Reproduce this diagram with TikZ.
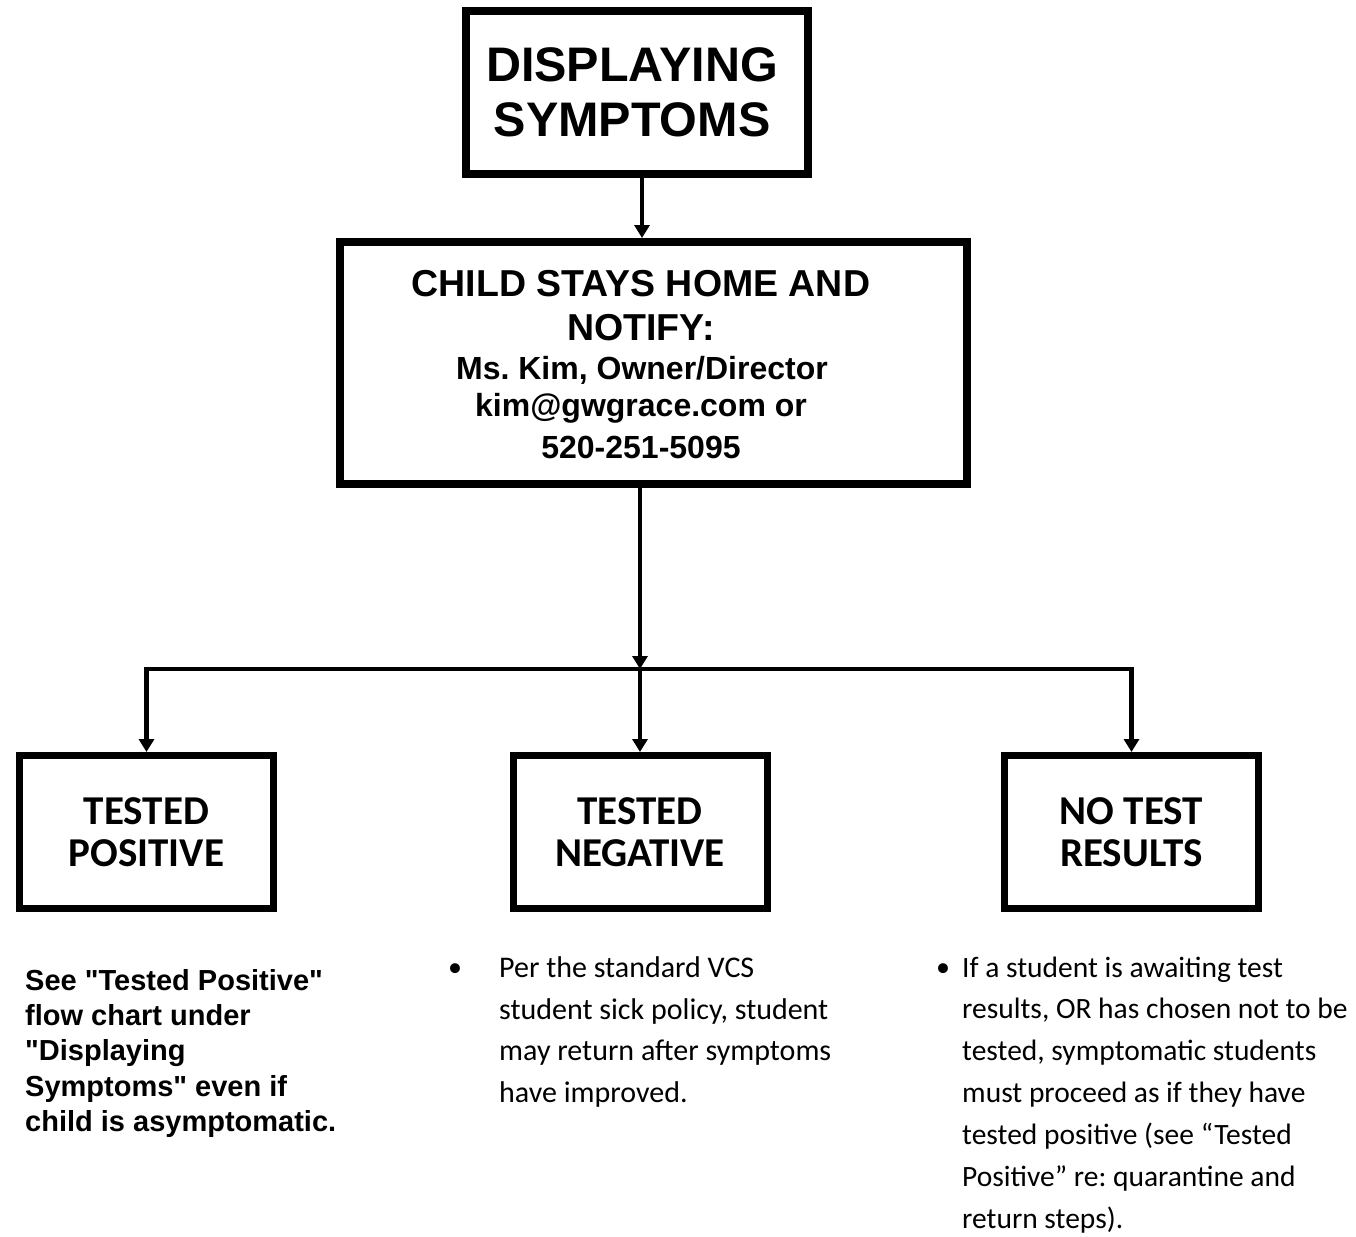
\documentclass[tikz,border=0pt]{standalone}
\usepackage{fontspec}
\setmainfont{Liberation Sans}
\newfontfamily\arialplain{Liberation Sans}
\newfontfamily\calib{Carlito}
\usetikzlibrary{arrows.meta}
\frenchspacing
\begin{document}
\frenchspacing
\begin{tikzpicture}[x=1pt,y=-1pt,
  bigbox/.style={draw,line width=8pt,inner sep=0pt},
  smallbox/.style={draw,line width=7pt,inner sep=0pt,minimum width=254pt,minimum height=153pt,
    align=center,font=\calib\bfseries\fontsize{41}{42}\selectfont},
  conn/.style={line width=4.5pt,-{Triangle[width=15pt,length=13pt]}},
  bigline/.style={inner sep=0pt,font=\bfseries\fontsize{37.5}{40}\selectfont},
  smallline/.style={inner sep=0pt,font=\bfseries\fontsize{32}{36}\selectfont},
  note/.style={inner sep=0pt,anchor=north west,align=left}]
\useasboundingbox (0,0) rectangle (1356,1236);
\fill[white] (0,0) rectangle (1356,1236);

\node[bigbox,minimum width=342pt,minimum height=163pt] (top) at (637,92.5) {};
\node[inner sep=0pt,align=center,font=\bfseries\fontsize{48.5}{55}\selectfont] (toptxt) at (632,92.5) {DISPLAYING\\SYMPTOMS};

\node[bigbox,minimum width=627pt,minimum height=242pt] (child) at (653.5,363) {};
\node[bigline] (l1) at (641,284) {CHILD STAYS HOME AND};
\node[bigline] (l2) at (641,328) {NOTIFY:};
\node[smallline] (l3) at (642,370) {Ms. Kim, Owner/Director};
\node[smallline] (l4) at (641,408) {kim@gwgrace.com or};
\node[smallline] (l5) at (641,447) {520-251-5095};

\node[smallbox] (pos) at (146.5,832) {TESTED\\POSITIVE};
\node[smallbox] (neg) at (640,832) {TESTED\\NEGATIVE};
\node[smallbox] (nores) at (1131.5,832) {NO TEST\\RESULTS};

\coordinate (hub) at (640,669);

\draw[conn] ([xshift=5pt]top.south) -- ([xshift=5pt]top.south |- child.north);
\draw[conn] (child.south -| hub) -- (hub);
\draw[conn] (hub) -- (neg.north);
\draw[conn] (hub) -| (pos.north);
\draw[conn] (hub) -| (nores.north);

\node[note,font=\arialplain\bfseries\fontsize{29}{35.3}\selectfont] (posnote) at (25,969)
  {See "Tested Positive"\\flow chart under\\"Displaying\\Symptoms" even if\\child is asymptomatic.};

\node[inner sep=0pt,font=\calib\fontsize{28}{42}\selectfont] (negbul) at (455,970) {•};
\node[note,font=\calib\fontsize{30}{41.7}\selectfont] (negnote) at (499,956.5)
  {Per the standard VCS\\student sick policy, student\\may return after symptoms\\have improved.};

\node[inner sep=0pt,font=\calib\fontsize{28}{42}\selectfont] (nobul) at (943,970) {•};
\node[note,font=\calib\fontsize{29.5}{41.8}\selectfont] (nonote) at (962,956.5)
  {If a student is awaiting test\\results, OR has chosen not to be\\tested, symptomatic students\\must proceed as if they have\\tested positive (see “Tested\\Positive” re: quarantine and\\return steps).};
\end{tikzpicture}
\end{document}
